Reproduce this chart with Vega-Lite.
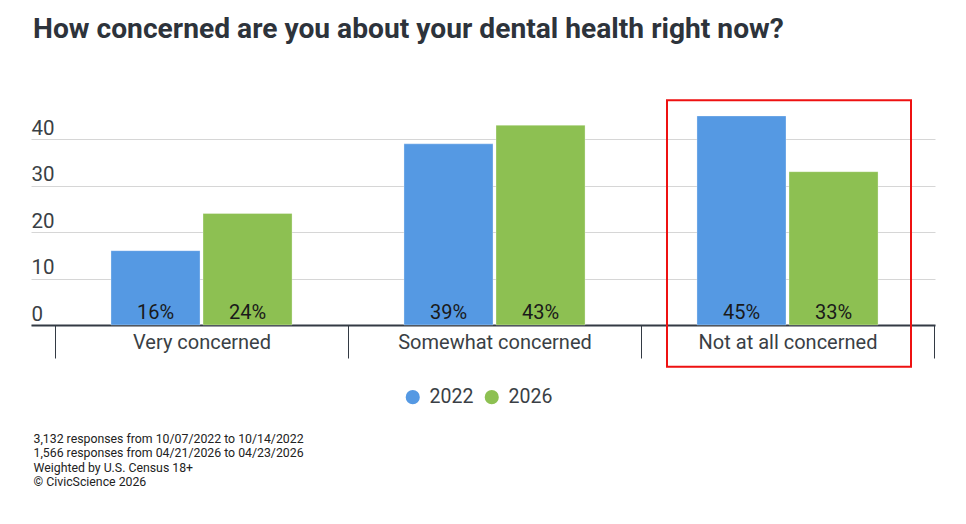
{
  "$schema": "https://vega.github.io/schema/vega-lite/v6.json",
  "autosize": {"type": "none"},
  "width": 904,
  "height": 223,
  "padding": {"left": 31, "top": 102, "right": 31, "bottom": 199},
  "background": "white",
  "title": {
    "text": "How concerned are you about your dental health right now?",
    "anchor": "start",
    "frame": "group",
    "font": "Roboto",
    "fontSize": 28.2,
    "fontWeight": "bold",
    "color": "#2d333b",
    "offset": 55,
    "dx": 2
  },
  "datasets": {
    "bars": [
      {"category": "Very concerned", "year": "2022", "value": 16, "label": "16%"},
      {"category": "Very concerned", "year": "2026", "value": 24, "label": "24%"},
      {"category": "Somewhat concerned", "year": "2022", "value": 39, "label": "39%"},
      {"category": "Somewhat concerned", "year": "2026", "value": 43, "label": "43%"},
      {"category": "Not at all concerned", "year": "2022", "value": 45, "label": "45%"},
      {"category": "Not at all concerned", "year": "2026", "value": 33, "label": "33%"}
    ],
    "highlight": [
      {"category": "Not at all concerned", "top": 48.4, "bottom": -9}
    ]
  },
  "encoding": {
    "x": {
      "field": "category",
      "type": "nominal",
      "sort": null,
      "scale": {
        "domain": ["Very concerned", "Somewhat concerned", "Not at all concerned"],
        "paddingInner": 0,
        "paddingOuter": 0.0427,
        "align": 0.96
      },
      "axis": {
        "title": ["3,132 responses from 10/07/2022 to 10/14/2022", "1,566 responses from 04/21/2026 to 04/23/2026", "Weighted by U.S. Census 18+", "© CivicScience 2026"],
        "titleX": 2,
        "titleY": 107,
        "titleAlign": "left",
        "titleAnchor": "start",
        "titleBaseline": "top",
        "titleFont": "Roboto",
        "titleFontSize": 12.3,
        "titleFontWeight": "normal",
        "titleColor": "#222222",
        "titleLineHeight": 14.5,
        "labelAngle": 0,
        "labelFont": "Roboto",
        "labelFontSize": 20,
        "labelColor": "#3a3f45",
        "labelLimit": 400,
        "labelPadding": -26,
        "tickBand": "extent",
        "tickSize": 33,
        "tickColor": "#333a44",
        "tickWidth": 1,
        "domainColor": "#333a44",
        "domainWidth": 2,
        "grid": false
      }
    }
  },
  "layer": [
    {
      "data": {"name": "bars"},
      "mark": {"type": "bar", "stroke": "white", "strokeWidth": 0.5, "strokeOpacity": 0.6},
      "encoding": {
        "xOffset": {
          "field": "year",
          "type": "nominal",
          "scale": {"paddingInner": 0.0326, "paddingOuter": 0.608}
        },
        "y": {
          "field": "value",
          "type": "quantitative",
          "scale": {"domain": [0, 48], "nice": false, "zero": true},
          "axis": {
            "title": null,
            "values": [0, 10, 20, 30, 40],
            "domain": false,
            "ticks": false,
            "tickSize": 0,
            "labelAlign": "left",
            "labelPadding": 0,
            "labelBaseline": "alphabetic",
            "labelOffset": -5,
            "labelFont": "Roboto",
            "labelFontSize": 20.5,
            "labelColor": "#3a3f45",
            "gridColor": "#d6d6d6",
            "gridWidth": 1
          }
        },
        "color": {
          "field": "year",
          "type": "nominal",
          "scale": {"domain": ["2022", "2026"], "range": ["#5599e3", "#8dc052"]},
          "legend": {
            "title": null,
            "orient": "none",
            "direction": "horizontal",
            "legendX": 372,
            "legendY": 285,
            "symbolType": "circle",
            "symbolSize": 200,
            "symbolStrokeWidth": 0,
            "labelFont": "Roboto",
            "labelFontSize": 19.5,
            "labelColor": "#3a3f45",
            "labelOffset": 7,
            "columnPadding": 8
          }
        }
      }
    },
    {
      "data": {"name": "bars"},
      "mark": {"type": "text", "baseline": "alphabetic", "dy": -6, "font": "Roboto", "fontSize": 20, "color": "#1a1a1a"},
      "encoding": {
        "xOffset": {"field": "year", "type": "nominal"},
        "y": {"datum": 0},
        "text": {"field": "label", "type": "nominal"}
      }
    },
    {
      "data": {"name": "highlight"},
      "mark": {"type": "bar", "width": 244, "xOffset": 1.5, "fill": "transparent", "stroke": "#ee1111", "strokeWidth": 2},
      "encoding": {
        "y": {"field": "top", "type": "quantitative"},
        "y2": {"field": "bottom"}
      }
    }
  ],
  "config": {
    "view": {"stroke": null},
    "font": "Roboto"
  }
}
